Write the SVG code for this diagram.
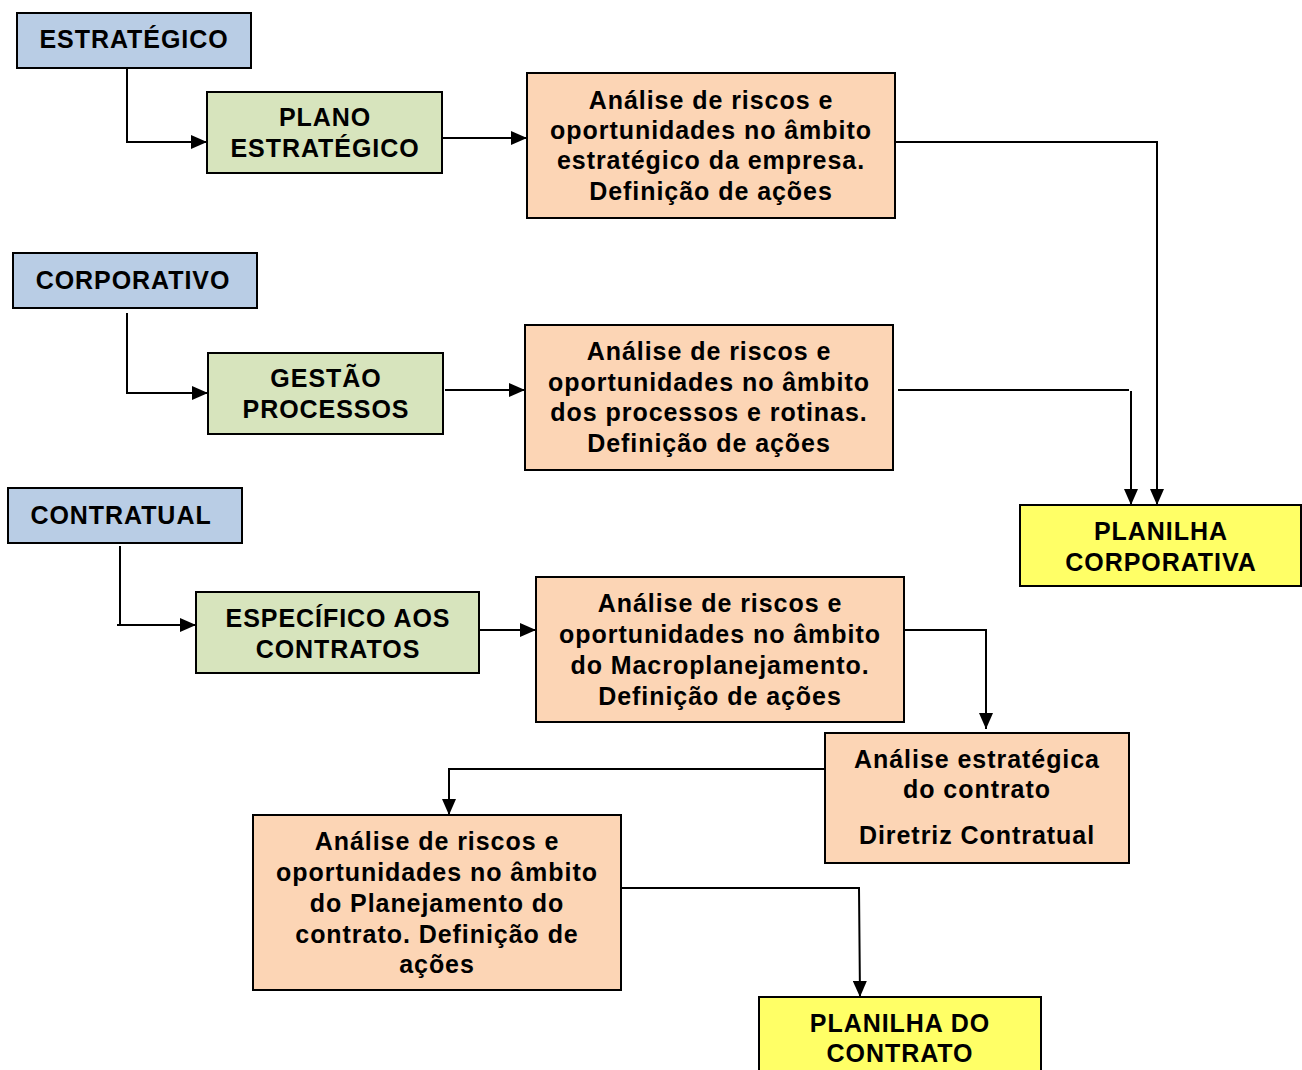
<svg xmlns="http://www.w3.org/2000/svg" width="1302" height="1070" viewBox="0 0 1302 1070">
<defs>
<style>
.box{stroke:#000;stroke-width:2}
.blue{fill:#b9cde5}
.green{fill:#d7e4bd}
.orange{fill:#fcd5b5}
.yellow{fill:#ffff66}
text{font-family:"Liberation Sans",Arial,sans-serif;font-weight:bold;font-size:25px;fill:#000;text-anchor:middle;letter-spacing:0.95px}
.conn{fill:none;stroke:#000;stroke-width:2}
</style>
<marker id="arrL" viewBox="0 0 16 14" refX="16" refY="7" markerWidth="16" markerHeight="14" markerUnits="userSpaceOnUse" orient="auto">
<path d="M0,0 L16,7 L0,14 z" fill="#000"/>
</marker>
</defs>
<rect width="1302" height="1070" fill="#fff"/>
<g id="connectors">
<path class="conn" d="M127,68 V142 H207" marker-end="url(#arrL)"/>
<path class="conn" d="M442,138 H527" marker-end="url(#arrL)"/>
<path class="conn" d="M895,142 H1157 V505" marker-end="url(#arrL)"/>
<path class="conn" d="M127,313 V393 H208" marker-end="url(#arrL)"/>
<path class="conn" d="M445,390 H525" marker-end="url(#arrL)"/>
<path class="conn" d="M898,390 H1129"/>
<path class="conn" d="M1131,391 V505" marker-end="url(#arrL)"/>
<path class="conn" d="M120,546 V625"/>
<path class="conn" d="M117,625 H196" marker-end="url(#arrL)"/>
<path class="conn" d="M479,630 H536" marker-end="url(#arrL)"/>
<path class="conn" d="M904,630 H986 V729" marker-end="url(#arrL)"/>
<path class="conn" d="M825,769 H449 V815" marker-end="url(#arrL)"/>
<path class="conn" d="M621,888 H859 L860,997" marker-end="url(#arrL)"/>
</g>
<g id="n-estrategico">
<rect class="box blue" x="17" y="13" width="234" height="55"/>
<text x="134" y="48">ESTRATÉGICO</text>
</g>
<g id="n-plano">
<rect class="box green" x="207" y="92" width="235" height="81"/>
<text x="325" y="126">PLANO</text>
<text x="325" y="157">ESTRATÉGICO</text>
</g>
<g id="n-analise1">
<rect class="box orange" x="527" y="73" width="368" height="145"/>
<text x="711" y="109">Análise de riscos e</text>
<text x="711" y="139">oportunidades no âmbito</text>
<text x="711" y="169">estratégico da empresa.</text>
<text x="711" y="200">Definição de ações</text>
</g>
<g id="n-corporativo">
<rect class="box blue" x="13" y="253" width="244" height="55"/>
<text x="133" y="289">CORPORATIVO</text>
</g>
<g id="n-gestao">
<rect class="box green" x="208" y="353" width="235" height="81"/>
<text x="326" y="387">GESTÃO</text>
<text x="326" y="418">PROCESSOS</text>
</g>
<g id="n-analise2">
<rect class="box orange" x="525" y="325" width="368" height="145"/>
<text x="709" y="360">Análise de riscos e</text>
<text x="709" y="391">oportunidades no âmbito</text>
<text x="709" y="421">dos processos e rotinas.</text>
<text x="709" y="452">Definição de ações</text>
</g>
<g id="n-contratual">
<rect class="box blue" x="8" y="488" width="234" height="55"/>
<text x="121" y="524">CONTRATUAL</text>
</g>
<g id="n-especifico">
<rect class="box green" x="196" y="592" width="283" height="81"/>
<text x="338" y="627">ESPECÍFICO AOS</text>
<text x="338" y="658">CONTRATOS</text>
</g>
<g id="n-analise3">
<rect class="box orange" x="536" y="577" width="368" height="145"/>
<text x="720" y="612">Análise de riscos e</text>
<text x="720" y="643">oportunidades no âmbito</text>
<text x="720" y="674">do Macroplanejamento.</text>
<text x="720" y="705">Definição de ações</text>
</g>
<g id="n-planilha-corp">
<rect class="box yellow" x="1020" y="505" width="281" height="81"/>
<text x="1161" y="540">PLANILHA</text>
<text x="1161" y="571">CORPORATIVA</text>
</g>
<g id="n-estrategica">
<rect class="box orange" x="825" y="733" width="304" height="130"/>
<text x="977" y="768">Análise estratégica</text>
<text x="977" y="798">do contrato</text>
<text x="977" y="844">Diretriz Contratual</text>
</g>
<g id="n-analise4">
<rect class="box orange" x="253" y="815" width="368" height="175"/>
<text x="437" y="850">Análise de riscos e</text>
<text x="437" y="881">oportunidades no âmbito</text>
<text x="437" y="912">do Planejamento do</text>
<text x="437" y="943">contrato. Definição de</text>
<text x="437" y="973">ações</text>
</g>
<g id="n-planilha-contrato">
<rect class="box yellow" x="759" y="997" width="282" height="80"/>
<text x="900" y="1032">PLANILHA DO</text>
<text x="900" y="1062">CONTRATO</text>
</g>
</svg>
